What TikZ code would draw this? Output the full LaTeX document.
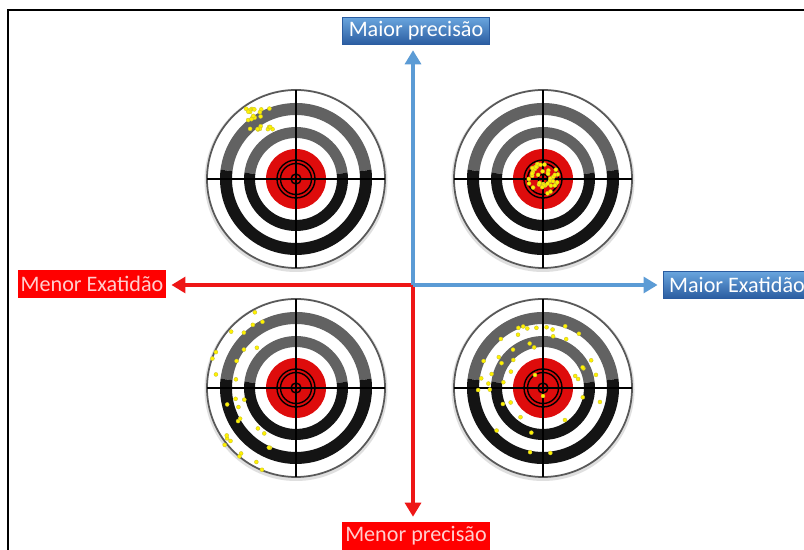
\documentclass[tikz,border=0pt]{standalone}
\usepackage{fontspec}
\setmainfont{Carlito}
\usetikzlibrary{arrows.meta,calc}
\definecolor{axisblue}{RGB}{91,155,213}
\definecolor{axisred}{RGB}{238,22,22}
\definecolor{boxbluetop}{RGB}{105,165,222}
\definecolor{boxbluebot}{RGB}{42,92,160}
\definecolor{boxred}{RGB}{255,0,0}
\definecolor{labelpink}{RGB}{255,206,206}
\definecolor{ringgray}{RGB}{98,98,98}
\definecolor{bullred}{RGB}{222,12,12}

\begin{document}
\begin{tikzpicture}[x=0.02cm,y=0.02cm,
    bluelabel/.style={top color=boxbluetop,bottom color=boxbluebot,draw=boxbluebot,text=white,
      minimum width=84pt,minimum height=15.5pt,inner sep=0pt,font=\fontsize{12.6}{14}\selectfont},
    redlabel/.style={fill=boxred,text=labelpink,
      minimum width=84pt,minimum height=15.5pt,inner sep=0pt,font=\fontsize{12.6}{14}\selectfont},
    axis/.style={line width=2.3pt,-{Triangle[length=8pt,width=9pt]},shorten >=3pt},
    shot/.style={fill=yellow,draw=yellow!75!black,line width=0.2pt}]

      \useasboundingbox (0,0) rectangle (804,550);
      \fill[white] (0,0) rectangle (804,550);

      % Frame
      \draw[line width=1.2pt] (8,0) -- (8,540) -- (804,540);

      % Targets
      \foreach \cx/\cy in {296/371,543/371,296/162,543/162}{
        \begin{scope}[shift={(\cx,\cy)}]
          \fill[gray!25] (0,-1.5) circle (91.5);
          \filldraw[fill=white,draw=black!65,line width=1pt] (0,0) circle (89);
          % rings
          \foreach \ro/\ri in {76/64,52/41}{
            \fill[ringgray] (7:\ro) arc[start angle=7,end angle=173,radius=\ro]
              -- (173:\ri) arc[start angle=173,end angle=7,radius=\ri] -- cycle;
            \fill[black!92] (7:\ro) arc[start angle=7,end angle=-187,radius=\ro]
              -- (-187:\ri) arc[start angle=-187,end angle=7,radius=\ri] -- cycle;
          }
          % bull
          \fill[bullred] (0,0) circle (30);
          \draw[line width=0.8pt] (0,0) circle (19) (0,0) circle (15.5) (0,0) circle (5);
          % cross hair
          \draw[line width=0.9pt] (-89,0) -- (89,0) (0,-89) -- (0,89);
        \end{scope}
      }

      % Shots
      \pgfmathsetseed{12}
      \foreach \i in {1,...,24}
        \fill[shot] ({258+15*rand}, {431+11*rand}) circle (2);

      \foreach \i in {1,...,40}{
        \pgfmathsetmacro\ang{360*rnd}
        \pgfmathsetmacro\rad{16*sqrt(rnd)}
        \fill[shot] (543,371) ++(\ang:\rad) circle (2);
      }

      \foreach \i in {1,...,30}{
        \pgfmathsetmacro\ang{105+145*rnd}
        \pgfmathsetmacro\rad{50+42*rnd}
        \fill[shot] (296,162) ++(\ang:\rad) circle (2);
      }

      \foreach \i in {1,...,42}{
        \pgfmathsetmacro\ang{360*rnd}
        \pgfmathsetmacro\rad{32+34*rnd}
        \fill[shot] (543,162) ++(\ang:\rad) circle (2);
      }
      \fill[shot] (543,154) circle (2);
      \fill[shot] (535,175) circle (2);

      % Labels
      \node[bluelabel] (up) at (416,519) {Maior precisão};
      \node[redlabel] (down) at (416,14) {Menor precisão};
      \node[redlabel] (left) at (92,266) {Menor Exatidão};
      \node[bluelabel] (right) at (737,265) {Maior Exatidão};
      \coordinate (o) at (413,265);

      % Axes
      \draw[axis,axisred] (o) -- (o -| left.east);
      \draw[axis,axisred] (o) -- (o |- down.north);
      \draw[axis,axisblue] (o) -- (o |- up.south);
      \draw[axis,axisblue] (o) -- (o -| right.west);
\end{tikzpicture}
\end{document}
